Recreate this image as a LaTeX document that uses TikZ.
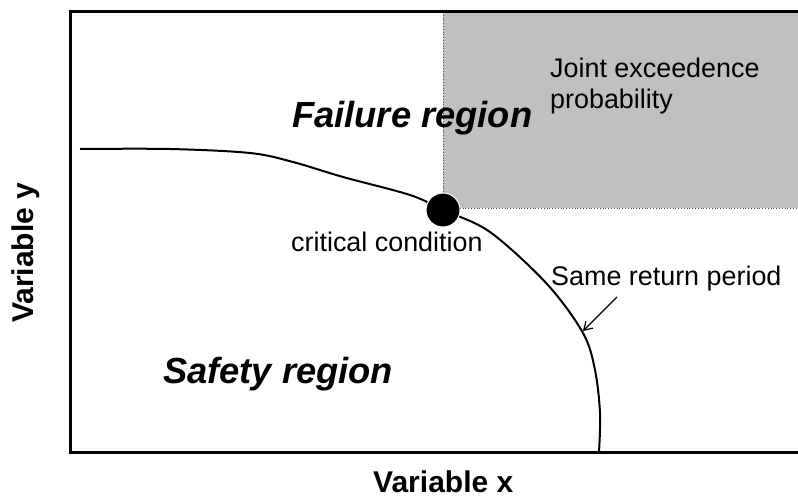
\documentclass[tikz,border=0pt]{standalone}
\usepackage{fontspec}
\setmainfont{Liberation Sans}
\usetikzlibrary{arrows.meta}
\definecolor{boxgray}{HTML}{C0C0C0}
\begin{document}
\begin{tikzpicture}[x=1pt,y=-1pt,
  lbl/.style={inner sep=0pt, anchor=base west},
  big/.style={lbl, font=\fontsize{36.3}{43}\selectfont\bfseries\itshape},
  axis/.style={lbl, font=\fontsize{30}{36}\selectfont\bfseries},
  note/.style={lbl, font=\fontsize{26.9}{32}\selectfont},
  frameline/.style={line width=3pt},
  dotline/.style={line width=0.8pt, dotted, black!70},
  curveline/.style={line width=2pt},
  arrowline/.style={line width=1.2pt, -{Straight Barb[length=8pt,width=10pt]}}
]
\useasboundingbox (0,0) rectangle (798,498);
% joint exceedence region
\fill[boxgray] (443,12) rectangle (800,208);
\draw[dotline] (443,12) -- (443,208) -- (800,208);
% frame
\draw[frameline] (800,11.3) -- (70,11.3) -- (70,452) -- (800,452);
% return period curve
\draw[curveline] plot[smooth, tension=0.55] coordinates {
  (80,149) (170,149) (250,153) (293,162) (343,177) (410,195) (443,210)
  (490,232) (547,284) (583,333) (595,370) (600,413) (599,452)};
\node[circle, fill=black, draw=white, line width=1pt, minimum size=34pt, inner sep=0pt] (crit) at (443,210) {};
% labels
\node[big] (fail) at (292,127) {Failure region};
\node[big] (safe) at (163,383) {Safety region};
\node[axis] (vx) at (373,492) {Variable x};
\node[axis, rotate=90] (vy) at (33,323) {Variable y};
\node[note] (critlbl) at (291,251) {critical condition};
\node[note] (joint1) at (550,77) {Joint exceedence};
\node[note] (joint2) at (550,108) {probability};
\node[note] (same) at (551,285) {Same return period};
% arrow
\coordinate (arrs) at (617,297);
\coordinate (arre) at (583,331);
\draw[arrowline] (arrs) -- (arre);
\end{tikzpicture}
\end{document}
